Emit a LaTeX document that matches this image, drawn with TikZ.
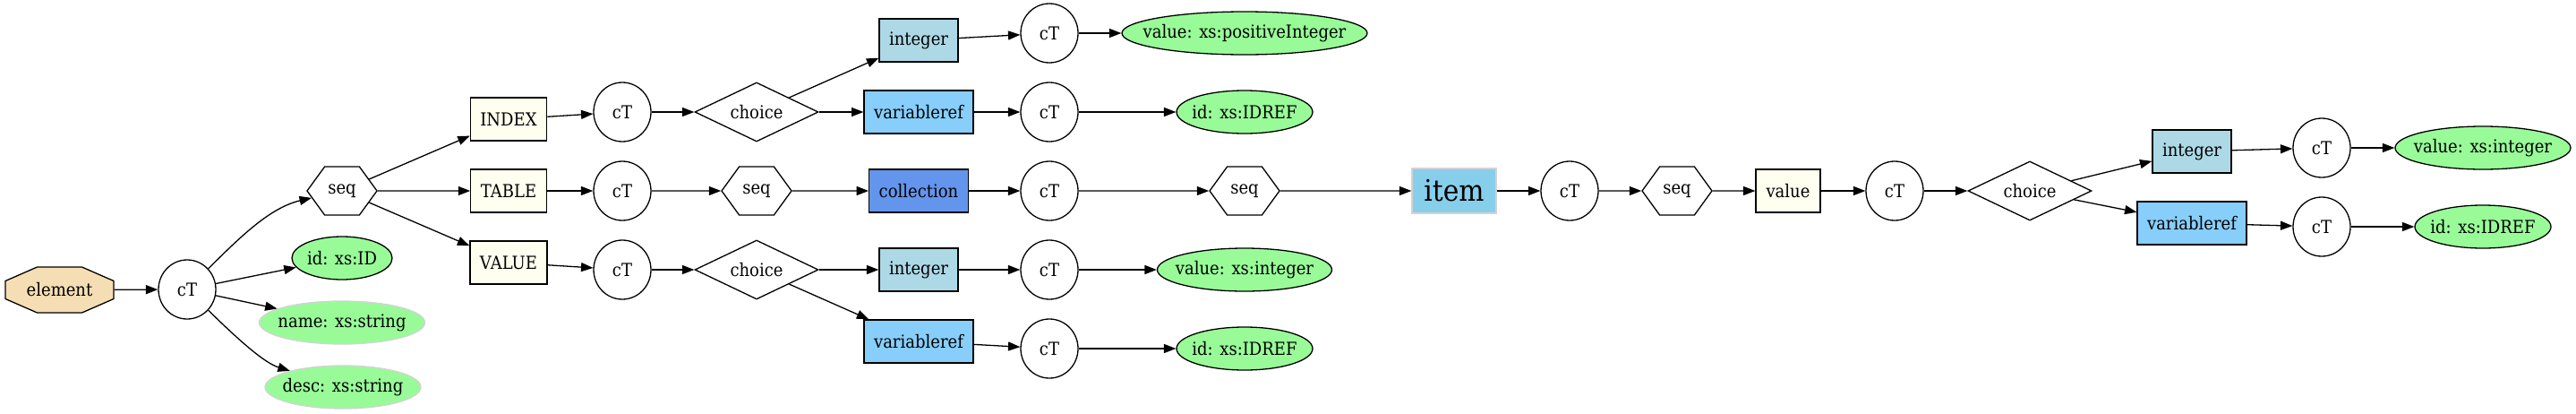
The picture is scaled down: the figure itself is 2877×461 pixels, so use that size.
\documentclass[tikz,border=0pt]{standalone}
\usepackage{fontspec}
\setmainfont[FakeStretch=0.9]{DejaVu Serif}
\usetikzlibrary{shapes.geometric,shapes.symbols,arrows.meta,calc}

\definecolor{wheat}{HTML}{F5DEB3}
\definecolor{ivory}{HTML}{FFFFF0}
\definecolor{lightblue}{HTML}{ADD8E6}
\definecolor{lightskyblue}{HTML}{87CEFA}
\definecolor{cornflower}{HTML}{6495ED}
\definecolor{skyblue}{HTML}{87CEEB}
\definecolor{palegreen}{HTML}{98FB98}
\definecolor{lightgray}{HTML}{D3D3D3}

\begin{document}
\begin{tikzpicture}[x=0.5pt,y=-0.5pt,line width=0.65pt,
  font=\fontsize{10}{12}\selectfont,
  arr/.style={-{Triangle[length=6.7pt,width=5pt]}},
  ct/.style={ellipse,draw,fill=white,minimum width=32pt,minimum height=33pt,inner sep=0pt},
  hexa/.style={signal,signal to=east and west,signal pointer angle=108,draw,fill=white,minimum width=39pt,minimum height=27pt,inner sep=0pt},
  pick/.style={diamond,aspect=2.1,draw,fill=white,minimum width=69pt,minimum height=33pt,inner sep=0pt},
  elbox/.style={rectangle,draw,fill=ivory,minimum width=36pt,minimum height=24pt,inner xsep=5.5pt},
  intbox/.style={elbox,fill=lightblue},
  varbox/.style={elbox,fill=lightskyblue},
  attr/.style={ellipse,draw,fill=palegreen,minimum height=24pt,inner sep=0pt,
    execute at begin node={\hbox to 0pt\bgroup\hss},execute at end node={\hss\egroup}},
  optattr/.style={attr,draw=lightgray}]
\useasboundingbox (0,0) rectangle (2877,461);

% Root element
\coordinate (elc) at (66.5,323.5);
\filldraw[fill=wheat] ($(elc)+(-60.5,-10)$) -- ($(elc)+(-25,-25.5)$) -- ($(elc)+(25,-25.5)$)
  -- ($(elc)+(60.5,-10)$) -- ($(elc)+(60.5,10)$) -- ($(elc)+(25,25.5)$)
  -- ($(elc)+(-25,25.5)$) -- ($(elc)+(-60.5,10)$) -- cycle;
\node[minimum width=60.5pt,minimum height=25.5pt] (element) at (elc) {element};
\node[ct] (ct0) at (209,323) {cT};
\node[hexa] (seq0) at (382,213) {seq};
\node[attr,minimum width=56pt] (id0) at (382,288) {id: xs:ID};
\node[optattr,minimum width=92.5pt] (name0) at (382,360) {name: xs:string};
\node[optattr,minimum width=87pt] (desc0) at (383,432) {desc: xs:string};

% INDEX branch
\node[elbox] (index) at (568,133) {INDEX};
\node[ct] (ctI) at (695,125) {cT};
\node[pick] (choiceI) at (845,125) {choice};
\node[intbox] (intI) at (1026,45) {integer};
\node[varbox] (varI) at (1026,125) {variableref};
\node[ct] (ctIa) at (1172,37) {cT};
\node[ct] (ctIb) at (1172,125) {cT};
\node[attr,minimum width=137pt] (posI) at (1390,37) {value: xs:positiveInteger};
\node[attr,minimum width=76pt] (idrefI) at (1390,125) {id: xs:IDREF};

% TABLE branch
\node[elbox] (table) at (568,213) {TABLE};
\node[ct] (ctT) at (695,213) {cT};
\node[hexa] (seqT) at (845,213) {seq};
\node[elbox,fill=cornflower] (coll) at (1026,213) {collection};
\node[ct] (ctC) at (1172,213) {cT};
\node[hexa] (seqC) at (1390,213) {seq};
\node[elbox,fill=skyblue,draw=lightgray,minimum width=47pt,minimum height=25pt,
  font=\fontsize{16.5}{18}\selectfont] (item) at (1624,213) {item};
\node[ct] (ctItem) at (1753,213) {cT};
\node[hexa] (seqItem) at (1873,213) {seq};
\node[elbox] (value) at (1997,213) {value};
\node[ct] (ctValue) at (2116,213) {cT};
\node[pick] (choiceItem) at (2267,213) {choice};
\node[intbox] (intItem) at (2448,169) {integer};
\node[varbox] (varItem) at (2448,249) {variableref};
\node[ct] (ctIntItem) at (2593,165) {cT};
\node[ct] (ctVarItem) at (2593,253) {cT};
\node[attr,minimum width=98pt] (intAttrItem) at (2773,165) {value: xs:integer};
\node[attr,minimum width=76pt] (idrefItem) at (2773,253) {id: xs:IDREF};

% VALUE branch
\node[elbox] (valueU) at (568,293) {VALUE};
\node[ct] (ctV) at (695,301) {cT};
\node[pick] (choiceV) at (845,301) {choice};
\node[intbox] (intV) at (1026,301) {integer};
\node[varbox] (varV) at (1026,381) {variableref};
\node[ct] (ctVa) at (1172,301) {cT};
\node[ct] (ctVb) at (1172,389) {cT};
\node[attr,minimum width=97.5pt] (intAttrV) at (1390,301) {value: xs:integer};
\node[attr,minimum width=76pt] (idrefV) at (1390,389) {id: xs:IDREF};

% Edges
\draw[arr] (element) -- (ct0);
\draw[arr] (ct0) .. controls (265,268) and (300,232) .. (seq0);
\draw[arr] (ct0) -- (id0);
\draw[arr] (ct0) -- (name0);
\draw[arr] (ct0) .. controls (265,378) and (295,405) .. (desc0);
\draw[arr] (seq0) -- (index);
\draw[arr] (seq0) -- (table);
\draw[arr] (seq0) -- (valueU);

\draw[arr] (index) -- (ctI);
\draw[arr] (ctI) -- (choiceI);
\draw[arr] (choiceI) -- (intI);
\draw[arr] (choiceI) -- (varI);
\draw[arr] (intI) -- (ctIa);
\draw[arr] (varI) -- (ctIb);
\draw[arr] (ctIa) -- (posI);
\draw[arr] (ctIb) -- (idrefI);

\draw[arr] (table) -- (ctT);
\draw[arr] (ctT) -- (seqT);
\draw[arr] (seqT) -- (coll);
\draw[arr] (coll) -- (ctC);
\draw[arr] (ctC) -- (seqC);
\draw[arr] (seqC) -- (item);
\draw[arr] (item) -- (ctItem);
\draw[arr] (ctItem) -- (seqItem);
\draw[arr] (seqItem) -- (value);
\draw[arr] (value) -- (ctValue);
\draw[arr] (ctValue) -- (choiceItem);
\draw[arr] (choiceItem) -- (intItem);
\draw[arr] (choiceItem) -- (varItem);
\draw[arr] (intItem) -- (ctIntItem);
\draw[arr] (varItem) -- (ctVarItem);
\draw[arr] (ctIntItem) -- (intAttrItem);
\draw[arr] (ctVarItem) -- (idrefItem);

\draw[arr] (valueU) -- (ctV);
\draw[arr] (ctV) -- (choiceV);
\draw[arr] (choiceV) -- (intV);
\draw[arr] (choiceV) -- (varV);
\draw[arr] (intV) -- (ctVa);
\draw[arr] (varV) -- (ctVb);
\draw[arr] (ctVa) -- (intAttrV);
\draw[arr] (ctVb) -- (idrefV);
\end{tikzpicture}
\end{document}
